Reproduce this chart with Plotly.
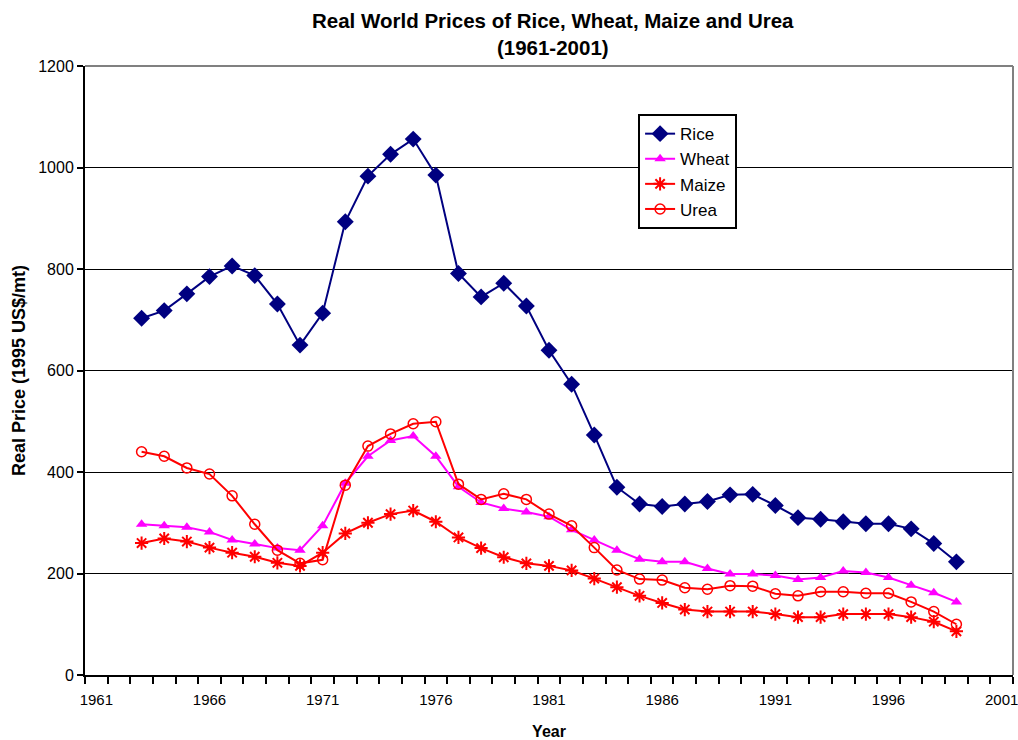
import plotly.graph_objects as go

years = list(range(1963, 2000))

rice = [703, 718, 751, 785, 806, 787, 731, 650, 713, 893, 983, 1026, 1056, 985,
        791, 745, 772, 727, 640, 573, 473, 370, 337, 332, 337, 342, 355, 356,
        334, 310, 307, 302, 298, 298, 288, 259, 223]
wheat = [297, 294, 291, 282, 266, 258, 250, 246, 294, 378, 431, 462, 471, 431,
         371, 340, 328, 321, 312, 286, 266, 246, 228, 223, 223, 210, 199, 199,
         196, 188, 192, 205, 202, 192, 177, 162, 144]
maize = [260, 269, 263, 251, 241, 233, 221, 215, 241, 279, 300, 317, 324, 302,
         271, 250, 232, 220, 215, 206, 190, 173, 156, 142, 129, 125, 125, 125,
         120, 114, 114, 120, 120, 120, 114, 105, 86]
urea = [440, 431, 408, 396, 353, 297, 246, 220, 227, 374, 451, 475, 495, 499,
        376, 346, 357, 346, 317, 294, 251, 207, 189, 187, 172, 169, 176, 175,
        160, 156, 164, 164, 161, 161, 144, 125, 100]

tick_years = [1961, 1966, 1971, 1976, 1981, 1986, 1991, 1996, 2001]
y_ticks = [0, 200, 400, 600, 800, 1000, 1200]

FONT = "Arial, Liberation Sans, Helvetica, sans-serif"

fig = go.Figure()
fig.add_trace(go.Scatter(x=years, y=rice, name="Rice", mode="lines+markers",
                         line=dict(color="#000080", width=2),
                         marker=dict(symbol="diamond", size=13, color="#000080")))
fig.add_trace(go.Scatter(x=years, y=wheat, name="Wheat", mode="lines+markers",
                         line=dict(color="#FF00FF", width=2),
                         marker=dict(symbol="triangle-up", size=10, color="#FF00FF")))
fig.add_trace(go.Scatter(x=years, y=maize, name="Maize", mode="lines+markers",
                         line=dict(color="#FF0000", width=2),
                         marker=dict(symbol="asterisk-open", size=11, color="#FF0000",
                                     line=dict(color="#FF0000", width=2))))
fig.add_trace(go.Scatter(x=years, y=urea, name="Urea", mode="lines+markers",
                         line=dict(color="#FF0000", width=2),
                         marker=dict(symbol="circle-open", size=10, color="#FF0000",
                                     line=dict(color="#FF0000", width=1.5))))

fig.update_layout(
    width=1018, height=740,
    margin=dict(l=85, r=5, t=66, b=65),
    paper_bgcolor="white", plot_bgcolor="white",
    font=dict(family=FONT, size=16, color="black"),
    title=dict(text="<b>Real World Prices of Rice, Wheat, Maize and Urea<br>(1961-2001)</b>",
               x=0.543, xanchor="center", xref="container", y=0.962, yanchor="top",
               yref="container",
               font=dict(size=20.5, family=FONT, color="black")),
    showlegend=True,
    legend=dict(x=0.596, y=0.921, xanchor="left", yanchor="top",
                bgcolor="white", bordercolor="black", borderwidth=2,
                font=dict(size=17, family=FONT, color="black"),
                tracegroupgap=0, itemwidth=30),
    xaxis=dict(range=[1960.5, 2001.5], tickmode="array", tickvals=tick_years,
               ticktext=[str(t) for t in tick_years], ticks="",
               ticklabelstandoff=10, ticklabeloverflow="allow",
               showgrid=False, zeroline=False, automargin=False,
               showline=True, linecolor="black", linewidth=2,
               tickfont=dict(size=15, family=FONT, color="black"),
               minor=dict(ticks="outside", tick0=1960.5, dtick=1, ticklen=7,
                          tickwidth=2, tickcolor="black", showgrid=False),
               title=dict(text="<b>Year</b>", font=dict(size=16, family=FONT),
                          standoff=20)),
    yaxis=dict(range=[0, 1200], tickmode="array", tickvals=y_ticks,
               ticks="outside", ticklen=6, tickwidth=2, tickcolor="black",
               showgrid=True, gridcolor="black", gridwidth=1,
               zeroline=False, automargin=False,
               showline=True, linecolor="black", linewidth=2,
               tickfont=dict(size=16, family=FONT, color="black"),
               title=dict(text="<b>Real Price (1995 US$/mt)</b>",
                          font=dict(size=18, family=FONT), standoff=8)),
)

# gray plot-area border on top and right
fig.add_shape(type="line", xref="paper", yref="paper", x0=0, x1=1, y0=1, y1=1,
              line=dict(color="#808080", width=2))
fig.add_shape(type="line", xref="paper", yref="paper", x0=1, x1=1, y0=0, y1=1,
              line=dict(color="#808080", width=2))

# remove the browser's default 8px body margin so the figure fills the window
fig.write_html("out.html", config={"displayModeBar": False},
               post_script="document.body.style.margin='0px';")
